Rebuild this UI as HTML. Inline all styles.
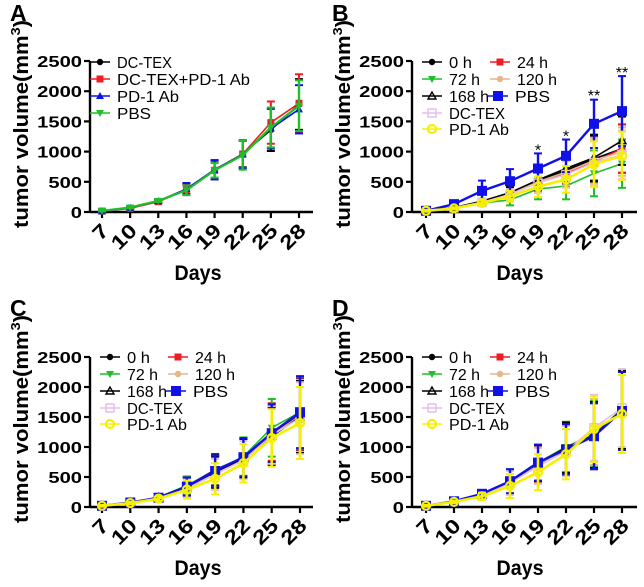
<!DOCTYPE html>
<html><head><meta charset="utf-8"><style>
html,body{margin:0;padding:0;background:#fff}
svg{display:block}
text{font-family:"Liberation Sans",Arial,sans-serif}
</style></head><body>
<svg id="fig" width="644" height="587" viewBox="0 0 644 587" xmlns="http://www.w3.org/2000/svg"></svg>
<script>
const days = [7,10,13,16,19,22,25,28];
const yTicks = [0,500,1000,1500,2000,2500];
const tickLabels = ["0","500","1000","1500","2000","2500"];

// Panel A series
const aDCTEX = [20,70,180,380,700,960,1360,1780];
const aDCTEXerr = [20,20,30,80,150,220,350,420];
const aCombo = [15,60,170,370,690,960,1480,1800];
const aComboErr = [10,15,25,80,150,230,350,480];
const aPD1 = [10,70,180,380,700,950,1380,1700];
const aPD1err = [10,15,30,100,160,230,330,400];
const aPBS = [20,75,185,360,690,940,1400,1760];
const aPBSerr = [10,15,20,80,120,240,330,420];

// Panel B series
const b0h = [20,70,170,320,510,690,880,1050];
const b24h = [20,70,170,310,490,650,830,1050];
const b72h = [20,60,150,200,380,430,640,800];
const b120h = [20,70,170,300,500,660,850,1000];
const b168h = [20,75,180,320,530,720,900,1180];
const bPBS = [20,130,350,510,720,930,1460,1670];
const bDCTEX = [20,70,160,290,480,620,820,950];
const bPD1 = [20,60,150,260,420,540,790,930];
const bErr = [15,20,40,90,170,220,380,400];
const bPBSerr = [10,30,170,200,250,270,400,580];

// Panel C series
const c0h = [20,70,160,350,620,830,1200,1550];
const c24h = [20,70,160,340,600,820,1250,1560];
const c72h = [20,70,160,360,600,840,1320,1580];
const c120h = [20,70,150,330,580,800,1200,1520];
const c168h = [20,70,160,340,580,810,1180,1500];
const cPBS = [20,75,155,340,600,830,1230,1580];
const cDCTEX = [20,70,150,310,540,780,1200,1480];
const cPD1 = [20,65,140,290,470,730,1150,1400];
const cErr = [15,20,40,150,260,320,480,600];

// Panel D series
const d0h = [20,90,200,420,720,990,1180,1620];
const d24h = [20,90,200,410,710,980,1200,1600];
const d72h = [20,90,210,430,740,1000,1220,1630];
const d120h = [20,90,200,410,720,970,1250,1600];
const d168h = [20,90,200,420,730,990,1200,1620];
const dPBS = [20,95,220,430,740,960,1180,1600];
const dDCTEX = [20,90,190,400,680,930,1320,1650];
const dPD1 = [20,85,180,350,580,880,1300,1550];
const dErr = [15,20,60,200,300,420,550,650];

const NS="http://www.w3.org/2000/svg";
const svg=document.getElementById('fig');
function el(tag,attrs,parent){const e=document.createElementNS(NS,tag);for(const k in attrs)e.setAttribute(k,attrs[k]);(parent||svg).appendChild(e);return e;}

function marker(g,type,cx,cy,color){
  let m;
  const s=4;
  if(type==='circle') m=el('circle',{cx:cx,cy:cy,r:3.2,fill:color},g);
  else if(type==='ocircle') m=el('circle',{cx:cx,cy:cy,r:4,fill:'none',stroke:color,'stroke-width':2.2},g);
  else if(type==='square') m=el('rect',{x:cx-3.5,y:cy-3.5,width:7,height:7,fill:color},g);
  else if(type==='bigsquare') m=el('rect',{x:cx-5,y:cy-5,width:10,height:10,fill:color},g);
  else if(type==='osquare') m=el('rect',{x:cx-4,y:cy-4,width:8,height:8,fill:'none',stroke:color,'stroke-width':1.5},g);
  else if(type==='tri') m=el('polygon',{points:`${cx},${cy-s} ${cx-s},${cy+3} ${cx+s},${cy+3}`,fill:color},g);
  else if(type==='otri') m=el('polygon',{points:`${cx},${cy-s} ${cx-s},${cy+3} ${cx+s},${cy+3}`,fill:'none',stroke:color,'stroke-width':1.4},g);
  else if(type==='dtri') m=el('polygon',{points:`${cx},${cy+s} ${cx-s},${cy-3} ${cx+s},${cy-3}`,fill:color},g);
  
  
}

function panel(cfg){
  const g=el('g',{});
  
  
  const xs=d=>cfg.x7+(d-7)*(cfg.x28-cfg.x7)/21;
  const ys=v=>cfg.y0-v*(cfg.y0-cfg.yTop)/2500;
  const L=el('text',{x:cfg.ax-80,y:cfg.y0-191,'font-family':'"Liberation Serif",serif','font-weight':'bold','font-size':23},g);
  L.textContent=cfg.letter;
  
  
  const ya=el('line',{x1:cfg.ax,y1:cfg.yTop,x2:cfg.ax,y2:cfg.y0+1,stroke:'#000','stroke-width':2.4},g);
  
  
  const xa=el('line',{x1:cfg.ax,y1:cfg.y0,x2:cfg.xEnd,y2:cfg.y0,stroke:'#000','stroke-width':2.4},g);
  
  
  yTicks.forEach((t,i)=>{
    el('line',{x1:cfg.ax-6,y1:ys(t),x2:cfg.ax,y2:ys(t),stroke:'#000','stroke-width':2.2},g);
    const tx=el('text',{x:cfg.ax-8,y:ys(t)+6,'text-anchor':'end','font-weight':'bold','font-size':16,textLength:tickLabels[i].length*11.2,lengthAdjust:'spacingAndGlyphs'},g);
    tx.textContent=tickLabels[i];
    
    
  });
  days.forEach(d=>{
    el('line',{x1:xs(d),y1:cfg.y0,x2:xs(d),y2:cfg.y0+6,stroke:'#000','stroke-width':2.2},g);
    const tx=el('text',{x:0,y:0,'text-anchor':'end','font-weight':'bold','font-size':20,transform:`translate(${xs(d)+8},${cfg.y0+20}) rotate(-45)`,textLength:String(d).length*13.5,lengthAdjust:'spacingAndGlyphs'},g);
    tx.textContent=String(d);
    
    
  });
  const dl=el('text',{x:cfg.ax+108,y:cfg.y0+68,'text-anchor':'middle','font-weight':'bold','font-size':21,textLength:47,lengthAdjust:'spacingAndGlyphs'},g);
  dl.textContent='Days';
  
  
  const yt=el('text',{x:0,y:0,'text-anchor':'middle','font-weight':'bold','font-size':20,transform:`translate(${cfg.ax-62},${cfg.y0-88}) rotate(-90)`,textLength:208,lengthAdjust:'spacingAndGlyphs'},g);
  yt.innerHTML='tumor volume(mm<tspan dy="-8" font-size="13">3</tspan><tspan dy="8">)</tspan>';
  
  
  cfg.series.forEach(s=>{
    const sg=el('g',{},g);
    
    
    s.vals.forEach((v,i)=>{
      const e=s.err[i],x=xs(days[i]);
      el('line',{x1:x,y1:ys(v-e),x2:x,y2:ys(v+e),stroke:s.color,'stroke-width':s.ew||2},sg);
      el('line',{x1:x-4,y1:ys(v+e),x2:x+4,y2:ys(v+e),stroke:s.color,'stroke-width':2},sg);
      el('line',{x1:x-4,y1:ys(v-e),x2:x+4,y2:ys(v-e),stroke:s.color,'stroke-width':2},sg);
    });
    const pts=s.vals.map((v,i)=>xs(days[i])+','+ys(v)).join(' ');
    const pl=el('polyline',{points:pts,fill:'none',stroke:s.color,'stroke-width':s.lw||1.6},sg);
    
    
    s.vals.forEach((v,i)=>marker(sg,s.m,xs(days[i]),ys(v),s.color));
  });
  cfg.legend.forEach(l=>{
    const lg=el('g',{},g);
    
    
    const s=cfg.series[l.i];
    el('line',{x1:l.x-10,y1:l.y,x2:l.x+10,y2:l.y,stroke:s.color,'stroke-width':1.6},lg);
    marker(lg,s.m,l.x,l.y,s.color);
    const t=el('text',{x:l.x+17,y:l.y+6,'font-size':16,textLength:l.w,lengthAdjust:'spacingAndGlyphs'},lg);
    t.textContent=s.name;
  });
}

const BLACK='#000',RED='#ee1c24',GREEN='#1fbf2a',ORANGE='#e6b58a',BLUE='#1010e8',PINK='#e4bfe8',YELLOW='#f5f000';
function eightSeries(v0,v24,v72,v120,v168,vPBS,vDC,vPD,err,pbsErr){
  return [
    {name:'0 h',vals:v0,err:err,color:BLACK,m:'circle'},
    {name:'24 h',vals:v24,err:err,color:RED,m:'square'},
    {name:'72 h',vals:v72,err:err,color:GREEN,m:'dtri'},
    {name:'120 h',vals:v120,err:err,color:ORANGE,m:'circle'},
    {name:'168 h',vals:v168,err:err,color:BLACK,m:'otri'},
    {name:'DC-TEX',vals:vDC,err:err,color:PINK,m:'osquare'},
    {name:'PBS',vals:vPBS,err:pbsErr||err,color:BLUE,m:'bigsquare',lw:2.4,ew:2.4},
    {name:'PD-1 Ab',vals:vPD,err:err,color:YELLOW,m:'ocircle',lw:2.6,ew:2.6}
  ];
}
function eightLegend(ax,y0){
  const r=[y0-150,y0-133,y0-116,y0-103,y0-87];
  const c1=ax+20,c2=ax+88;
  return [
    {i:0,x:c1,y:r[0],w:23},{i:1,x:c2,y:r[0],w:31},
    {i:2,x:c1,y:r[1],w:31},{i:3,x:c2,y:r[1],w:40},
    {i:4,x:c1,y:r[2],w:40},{i:6,x:c2-2,y:r[2],w:35},
    {i:5,x:c1,y:r[3]+4,w:56},{i:7,x:c1,y:r[4]+4,w:60}
  ];
}

panel({letter:'A',ax:90,x7:102,x28:299,y0:212,yTop:61,xEnd:313,
  series:[
    {name:'DC-TEX',vals:aDCTEX,err:aDCTEXerr,color:BLACK,m:'circle'},
    {name:'DC-TEX+PD-1 Ab',vals:aCombo,err:aComboErr,color:RED,m:'square'},
    {name:'PD-1 Ab',vals:aPD1,err:aPD1err,color:BLUE,m:'tri'},
    {name:'PBS',vals:aPBS,err:aPBSerr,color:GREEN,m:'dtri',lw:2.2,ew:2.4}
  ],
  legend:[{i:0,x:100,y:62,w:55},{i:1,x:100,y:79,w:133},{i:2,x:100,y:96,w:62},{i:3,x:100,y:113,w:34}]
});
const sB=eightSeries(b0h,b24h,b72h,b120h,b168h,bPBS,bDCTEX,bPD1,bErr,bPBSerr);
panel({letter:'B',ax:412,x7:426,x28:622,y0:212,yTop:61,xEnd:637,series:sB,legend:eightLegend(412,212)});
const sC=eightSeries(c0h,c24h,c72h,c120h,c168h,cPBS,cDCTEX,cPD1,cErr);
panel({letter:'C',ax:90,x7:102,x28:300,y0:507,yTop:357,xEnd:313,series:sC,legend:eightLegend(90,507)});
const sD=eightSeries(d0h,d24h,d72h,d120h,d168h,dPBS,dDCTEX,dPD1,dErr);
panel({letter:'D',ax:412,x7:426,x28:622,y0:507,yTop:357,xEnd:637,series:sD,legend:eightLegend(412,507)});

const starDays=[19,22,25,28];
const starLabels=['*','*','**','**'];
const starVals=[970,1200,1870,2250];
starDays.forEach((d,i)=>{
  const x=426+(d-7)*(622-426)/21, y=212-starVals[i]*151/2500-4;
  const t=el('text',{x:x,y:y+6,'text-anchor':'middle','font-size':16});
  t.textContent=starLabels[i];
  
  
});
</script>
</body></html>
